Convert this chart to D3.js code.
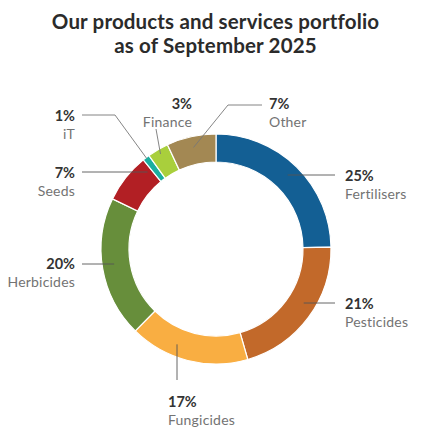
<!DOCTYPE html>
<html>
<head>
<meta charset="utf-8">
<script src="https://cdn.jsdelivr.net/npm/d3@7"></script>
<style>
  body { margin: 0; background: #fff; }
  text { font-family: "Lato", "Open Sans", sans-serif; }
</style>
</head>
<body>
<div id="chart"></div>
<script>
// DATA
const categories = ["Fertilisers", "Pesticides", "Fungicides", "Herbicides", "Seeds", "iT", "Finance", "Other"];
const shares = [25, 21, 17, 20, 7, 1, 3, 7];
const sliceColors = ["#135f94", "#c2692a", "#f9ae42", "#678e3b", "#b21f24", "#1aae9f", "#a9cf3c", "#a38853"];
const titleLines = ["Our products and services portfolio", "as of September 2025"];

// LABEL LAYOUT (text anchor point + leader line shape)
const labelLayout = [
  { x: 345, y: 181, anchor: "start", line: "h", ly: 175, lx: 335 },
  { x: 345, y: 309, anchor: "start", line: "h", ly: 303, lx: 335 },
  { x: 168, y: 407, anchor: "start", line: "v", lx: 177, ly: 380 },
  { x: 75,  y: 269, anchor: "end",   line: "h", ly: 264, lx: 82 },
  { x: 75,  y: 178, anchor: "end",   line: "h", ly: 172, lx: 82 },
  { x: 75,  y: 121, anchor: "end",   line: "e", lx: 82, ly: 115, ex: 115, r: 114 },
  { x: 192, y: 109, anchor: "end",   line: "d", lx: 156, ly: 129, r: 110 },
  { x: 269, y: 109, anchor: "start", line: "e", lx: 262, ly: 105, ex: 228, r: 104 }
];

const w = 431, h = 445;
const cx = 216, cy = 249;
const outerR = 115, innerR = 87, midR = 103;

const svg = d3.select("#chart")
  .append("svg")
  .attr("width", w)
  .attr("height", h);

// TITLE
svg.append("g")
  .selectAll("text")
  .data(titleLines)
  .enter()
  .append("text")
  .attr("x", w / 2)
  .attr("y", (d, i) => 29 + i * 24)
  .attr("text-anchor", "middle")
  .style("font-size", "20.5px")
  .style("letter-spacing", "0.15px")
  .style("font-weight", "bold")
  .style("fill", "#2b2b2b")
  .text((d) => d);

// PIE
const pie = d3.pie().sort(null).value((d) => d.value);
const dataset = categories.map((c, i) => ({ name: c, value: shares[i], color: sliceColors[i] }));
const arcs = pie(dataset);

const arc = d3.arc().innerRadius(innerR).outerRadius(outerR);

const donut = svg.append("g").attr("transform", "translate(" + cx + "," + cy + ")");

donut.selectAll("path")
  .data(arcs)
  .enter()
  .append("path")
  .attr("d", arc)
  .style("fill", (d) => d.data.color)
  .style("stroke", "#fff")
  .style("stroke-width", 1.2);

// LEADER LINES
function leaderPoints(a, L) {
  const mid = (a.startAngle + a.endAngle) / 2;
  if (L.line === "h") {
    const dy = L.ly - cy;
    const dx = Math.sqrt(midR * midR - dy * dy) * (L.lx > cx ? 1 : -1);
    return [[L.lx, L.ly], [cx + dx, L.ly]];
  }
  if (L.line === "v") {
    const dx = L.lx - cx;
    const dy = Math.sqrt(midR * midR - dx * dx) * (L.ly > cy ? 1 : -1);
    return [[L.lx, L.ly], [L.lx, cy + dy]];
  }
  const end = [cx + L.r * Math.sin(mid), cy - L.r * Math.cos(mid)];
  if (L.line === "e") return [[L.lx, L.ly], [L.ex, L.ly], end];
  return [[L.lx, L.ly], end];
}

svg.append("g")
  .selectAll("path")
  .data(arcs)
  .enter()
  .append("path")
  .attr("d", (d, i) => d3.line()(leaderPoints(d, labelLayout[i])))
  .style("fill", "none")
  .style("stroke", (d, i) => i < 5 ? "#555" : "#777")
  .style("stroke-width", 0.9);

// LABELS
const labels = svg.append("g")
  .selectAll("g")
  .data(arcs)
  .enter()
  .append("g");

labels.append("text")
  .attr("x", (d, i) => labelLayout[i].x)
  .attr("y", (d, i) => labelLayout[i].y)
  .attr("text-anchor", (d, i) => labelLayout[i].anchor)
  .style("font-size", "14.5px")
  .style("font-weight", "bold")
  .style("fill", "#333")
  .text((d) => d.data.value + "%");

labels.append("text")
  .attr("x", (d, i) => labelLayout[i].x)
  .attr("y", (d, i) => labelLayout[i].y + 18)
  .attr("text-anchor", (d, i) => labelLayout[i].anchor)
  .style("font-size", "14px")
  .style("letter-spacing", "0.2px")
  .style("fill", "#737373")
  .text((d) => d.data.name);
</script>
</body>
</html>
